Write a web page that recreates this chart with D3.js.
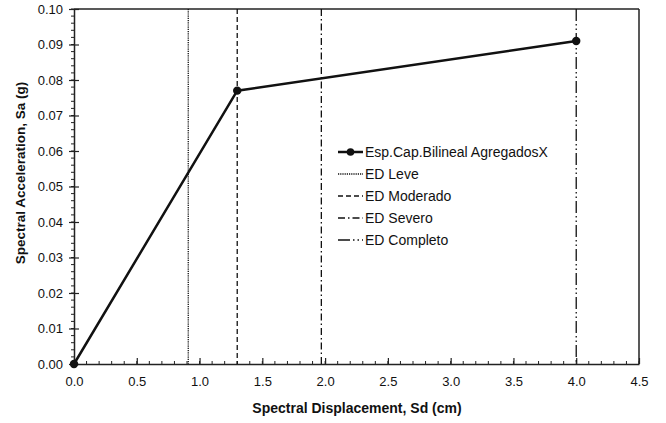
<!DOCTYPE html>
<html>
<head>
<meta charset="utf-8">
<script src="https://cdn.jsdelivr.net/npm/d3@7"></script>
<style>
  body { margin: 0; background: #fff; }
  text { font-family: "Liberation Sans", Arial, sans-serif; fill: #111; }
</style>
</head>
<body>
<svg id="chart" width="666" height="423"></svg>
<script>
// bilinear capacity spectrum points (Sd cm, Sa g)
const capSd = [0, 1.3, 4.0];
const capSa = [0, 0.077, 0.091];

// damage state thresholds (Sd cm)
const stateNames = ["ED Leve", "ED Moderado", "ED Severo", "ED Completo"];
const stateSd = [0.91, 1.3, 1.97, 4.0];
const stateDash = ["1.2,1", "5,3", "7,3,1.5,3", "12,3,1.5,3,1.5,3"];

const seriesName = "Esp.Cap.Bilineal AgregadosX";
const xTicks = [0, 0.5, 1, 1.5, 2, 2.5, 3, 3.5, 4, 4.5];
const yTicks = [0, 0.01, 0.02, 0.03, 0.04, 0.05, 0.06, 0.07, 0.08, 0.09, 0.10];

const margin = { top: 9, right: 27, bottom: 59, left: 74 };
const width = 666 - margin.left - margin.right;
const height = 423 - margin.top - margin.bottom;

const svg = d3.select("#chart");
const g = svg.append("g").attr("transform", `translate(${margin.left},${margin.top})`);

const x = d3.scaleLinear().domain([0, 4.5]).range([0, width]);
const y = d3.scaleLinear().domain([0, 0.10]).range([height, 0]);

// minor ticks
const xMinor = d3.range(0, 4.5001, 0.1);
const yMinor = d3.range(0, 0.1001, 0.002);

g.append("g").selectAll("line").data(xMinor).join("line")
    .attr("x1", d => x(d)).attr("x2", d => x(d))
    .attr("y1", height).attr("y2", height - 3)
    .attr("stroke", "#222").attr("stroke-width", 1);

g.append("g").selectAll("line").data(yMinor).join("line")
    .attr("x1", 0).attr("x2", -3)
    .attr("y1", d => y(d)).attr("y2", d => y(d))
    .attr("stroke", "#222").attr("stroke-width", 1);

// axes
const xAxis = g.append("g")
    .attr("transform", `translate(0,${height})`)
    .call(d3.axisBottom(x).tickValues(xTicks).tickFormat(d3.format(".1f")).tickSizeInner(-6).tickSizeOuter(0).tickPadding(13));
xAxis.select(".domain").attr("stroke", "#222").attr("stroke-width", 1.5);
xAxis.selectAll(".tick line").attr("stroke", "#222").attr("stroke-width", 1.2);
xAxis.selectAll("text").attr("font-size", 13).attr("fill", "#111");

const yAxis = g.append("g")
    .call(d3.axisLeft(y).tickValues(yTicks).tickFormat(d3.format(".2f")).tickSizeInner(5).tickSizeOuter(0).tickPadding(5));
yAxis.select(".domain").attr("stroke", "#222").attr("stroke-width", 1.5);
yAxis.selectAll(".tick line").attr("stroke", "#222").attr("stroke-width", 1.2).attr("x2", 5).attr("x1", -5);
yAxis.selectAll("text").attr("font-size", 13).attr("fill", "#111").attr("x", -11);

// frame top and right
g.append("line").attr("x1", 0).attr("x2", width).attr("y1", 0).attr("y2", 0)
    .attr("stroke", "#222").attr("stroke-width", 1.5);
g.append("line").attr("x1", width).attr("x2", width).attr("y1", 0).attr("y2", height)
    .attr("stroke", "#222").attr("stroke-width", 1.5);

// damage state lines
g.append("g").selectAll("line").data(stateSd).join("line")
    .attr("x1", d => x(d)).attr("x2", d => x(d))
    .attr("y1", y(0.10)).attr("y2", y(0))
    .attr("stroke", "#111").attr("stroke-width", 1.3)
    .attr("stroke-dasharray", (d, i) => stateDash[i]);

// capacity curve
const capData = capSd.map((d, i) => ({ sd: d, sa: capSa[i] }));
g.append("path").datum(capData)
    .attr("fill", "none").attr("stroke", "#111").attr("stroke-width", 2.5)
    .attr("d", d3.line().x(d => x(d.sd)).y(d => y(d.sa)));
g.append("g").selectAll("circle").data(capData).join("circle")
    .attr("cx", d => x(d.sd)).attr("cy", d => y(d.sa)).attr("r", 4.2)
    .attr("fill", "#111");

// legend
const legend = svg.append("g").attr("transform", "translate(338,152)");
const rows = [{ name: seriesName, dash: null }].concat(stateNames.map((n, i) => ({ name: n, dash: stateDash[i] })));
const rowY = [0, 22, 44, 66, 88];
rows.forEach((r, i) => {
    let row = legend.append("g").attr("transform", `translate(0,${rowY[i]})`);
    if (r.dash === null) {
        row.append("line").attr("x1", 0).attr("x2", 25).attr("y1", 0).attr("y2", 0)
            .attr("stroke", "#111").attr("stroke-width", 2.5);
        row.append("circle").attr("cx", 12.5).attr("cy", 0).attr("r", 3.8).attr("fill", "#111");
    } else {
        row.append("line").attr("x1", 0).attr("x2", 25).attr("y1", 0).attr("y2", 0)
            .attr("stroke", "#111").attr("stroke-width", 1.3).attr("stroke-dasharray", r.dash);
    }
    row.append("text").attr("x", 27).attr("y", 5).attr("font-size", 14).text(r.name);
});

// axis titles
svg.append("text")
    .attr("x", 357).attr("y", 413)
    .attr("text-anchor", "middle").attr("font-size", 14).attr("font-weight", "bold")
    .text("Spectral Displacement, Sd (cm)");
svg.append("text")
    .attr("transform", "translate(25,173) rotate(-90)")
    .attr("text-anchor", "middle").attr("font-size", 13.5).attr("font-weight", "bold")
    .text("Spectral Acceleration, Sa (g)");
</script>
</body>
</html>
